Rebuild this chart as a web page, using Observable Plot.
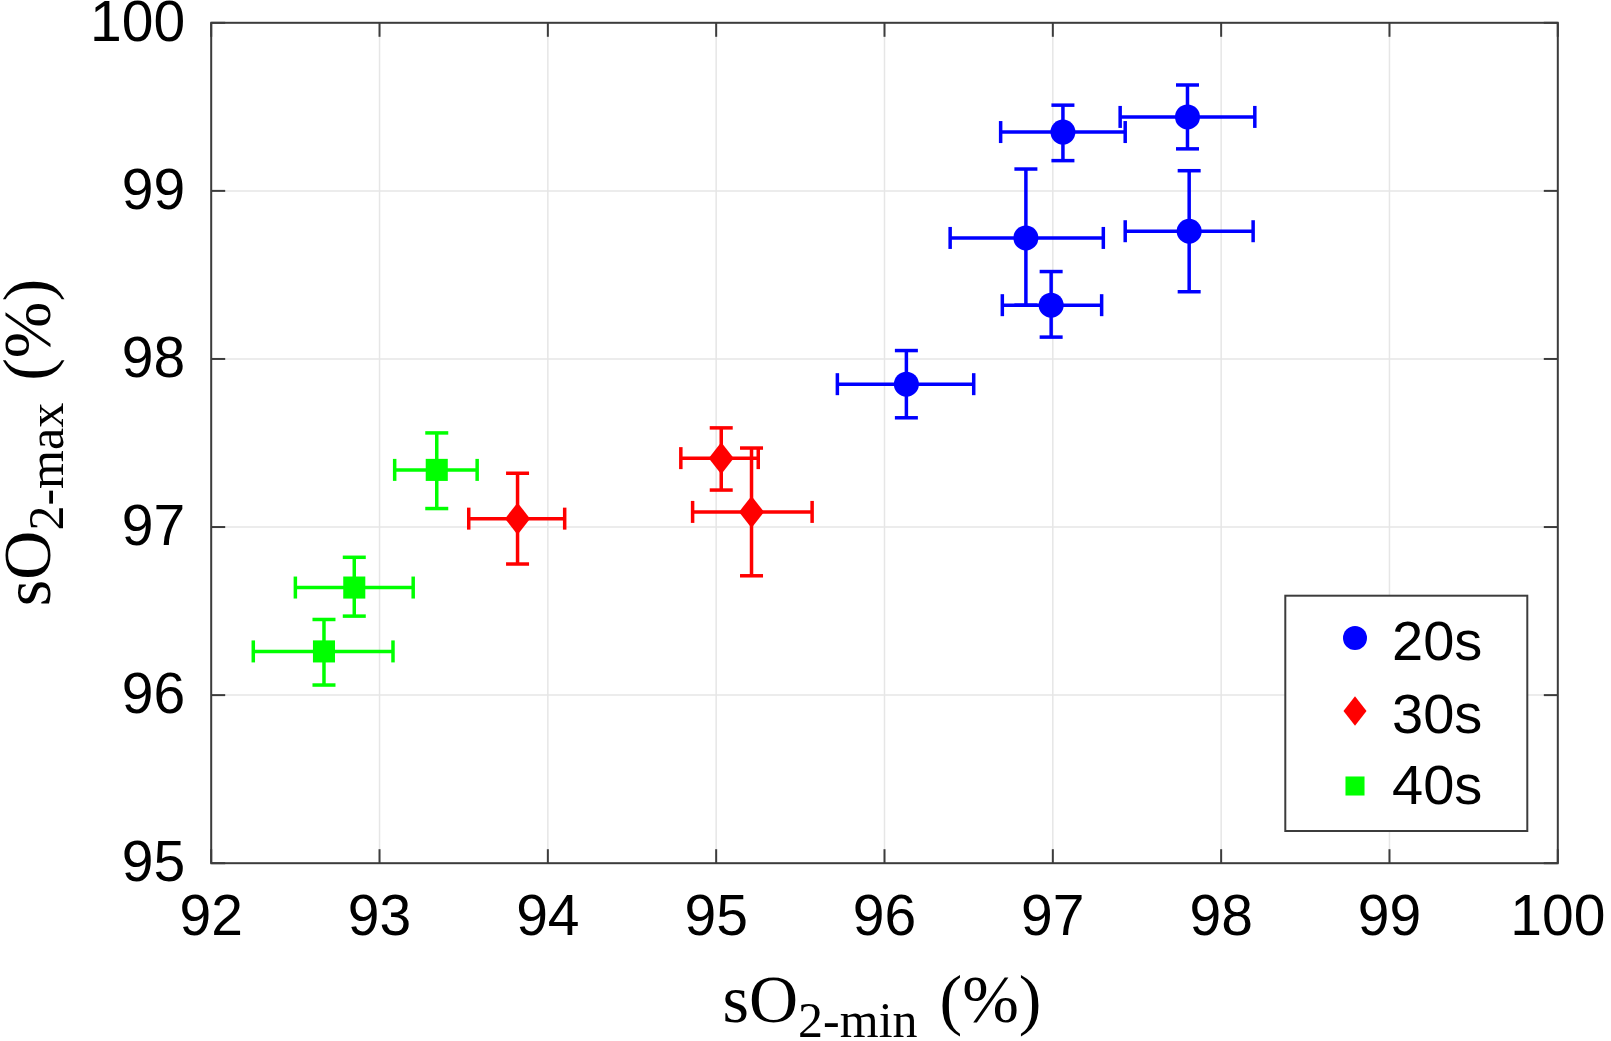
<!DOCTYPE html>
<html>
<head>
<meta charset="utf-8">
<script src="https://cdn.jsdelivr.net/npm/d3@7"></script>
<script src="https://cdn.jsdelivr.net/npm/@observablehq/plot@0.6"></script>
<style>
  html, body { margin: 0; padding: 0; background: #fff; }
  #chart { width: 1611px; height: 1041px; }
</style>
</head>
<body>
<div id="chart"></div>
<script>
// ---- data ----
const groups = ["20s", "30s", "40s"];
const colors = ["#0000ff", "#ff0000", "#00ff00"];

const x20   = [97.06, 97.80, 96.84, 96.99, 97.81, 96.13];
const y20   = [99.35, 99.44, 98.72, 98.32, 98.76, 97.85];
const x20lo = [96.69, 97.40, 96.39, 96.70, 97.43, 95.72];
const x20hi = [97.43, 98.20, 97.30, 97.29, 98.19, 96.53];
const y20lo = [99.18, 99.25, 98.32, 98.13, 98.40, 97.65];
const y20hi = [99.51, 99.63, 99.13, 98.52, 99.12, 98.05];

const x30   = [95.03, 95.21, 93.82];
const y30   = [97.41, 97.09, 97.05];
const x30lo = [94.79, 94.86, 93.53];
const x30hi = [95.25, 95.57, 94.10];
const y30lo = [97.22, 96.71, 96.78];
const y30hi = [97.59, 97.47, 97.32];

const x40   = [93.34, 92.85, 92.67];
const y40   = [97.34, 96.64, 96.26];
const x40lo = [93.09, 92.50, 92.25];
const x40hi = [93.58, 93.20, 93.08];
const y40lo = [97.11, 96.47, 96.06];
const y40hi = [97.56, 96.82, 96.45];

const xTicks = [92, 93, 94, 95, 96, 97, 98, 99, 100];
const yTicks = [95, 96, 97, 98, 99, 100];
const xLabel = { main: "sO", sub: "2-min", unit: "(%)" };
const yLabel = { main: "sO", sub: "2-max", unit: "(%)" };

// ---- build table ----
function rows(g, xs, ys, xlo, xhi, ylo, yhi) {
  return xs.map((x, i) => ({ group: g, x, y: ys[i], xlo: xlo[i], xhi: xhi[i], ylo: ylo[i], yhi: yhi[i] }));
}
const data = [
  ...rows("20s", x20, y20, x20lo, x20hi, y20lo, y20hi),
  ...rows("30s", x30, y30, x30lo, x30hi, y30lo, y30hi),
  ...rows("40s", x40, y40, x40lo, x40hi, y40lo, y40hi)
];

// ---- custom symbols ----
const diamondSym = { draw(ctx, size) { const r = Math.sqrt(size / Math.PI); const hw = r, hh = r * 1.28;
  ctx.moveTo(0, -hh); ctx.lineTo(hw, 0); ctx.lineTo(0, hh); ctx.lineTo(-hw, 0); ctx.closePath(); } };
const squareSym = { draw(ctx, size) { const r = Math.sqrt(size / Math.PI); const h = r * 0.89;
  ctx.rect(-h, -h, 2 * h, 2 * h); } };
const vCap = { draw(ctx) { ctx.moveTo(0, -11); ctx.lineTo(0, 11); } };
const hCap = { draw(ctx) { ctx.moveTo(-11.5, 0); ctx.lineTo(11.5, 0); } };
const tickUp = { draw(ctx) { ctx.moveTo(0, 0); ctx.lineTo(0, -14); } };
const tickDown = { draw(ctx) { ctx.moveTo(0, 0); ctx.lineTo(0, 14); } };
const tickRight = { draw(ctx) { ctx.moveTo(0, 0); ctx.lineTo(14, 0); } };
const tickLeft = { draw(ctx) { ctx.moveTo(0, 0); ctx.lineTo(-14, 0); } };

const symbolOf = { "20s": "circle", "30s": diamondSym, "40s": squareSym };
const rOf = { "20s": 12.5, "30s": 12.5, "40s": 12.4 };

const W = 1611, H = 1041;
const mL = 210.7, mT = 22.3, mR = W - 1557.3, mB = H - 862.7;
const frameColor = "#3c3c3c";
const gridColor = "#e6e6e6";
const sans = "Liberation Sans, Arial, sans-serif";
const fmt = d3.format("d");

const marks = [
  Plot.gridX(xTicks, { stroke: gridColor, strokeOpacity: 1, strokeWidth: 1.5 }),
  Plot.gridY(yTicks, { stroke: gridColor, strokeOpacity: 1, strokeWidth: 1.5 }),
  Plot.axisX(xTicks, { tickSize: 0, tickPadding: 31, tickFormat: fmt, fontSize: 57, fontFamily: sans, fill: "#000", label: null }),
  Plot.axisY(yTicks, { tickSize: 0, tickPadding: 26, tickFormat: fmt, fontSize: 57, fontFamily: sans, fill: "#000", label: null }),
  // inward ticks on all four sides
  Plot.dot(xTicks, { x: d => d, y: 95, symbol: tickUp, stroke: frameColor, strokeWidth: 2 }),
  Plot.dot(xTicks, { x: d => d, y: 100, symbol: tickDown, stroke: frameColor, strokeWidth: 2 }),
  Plot.dot(yTicks, { y: d => d, x: 92, symbol: tickRight, stroke: frameColor, strokeWidth: 2 }),
  Plot.dot(yTicks, { y: d => d, x: 100, symbol: tickLeft, stroke: frameColor, strokeWidth: 2 }),
  Plot.frame({ stroke: frameColor, strokeWidth: 2 })
];

groups.forEach((g, gi) => {
  const d = data.filter(r => r.group === g);
  const c = colors[gi];
  marks.push(
    Plot.ruleY(d, { y: "y", x1: "xlo", x2: "xhi", stroke: c, strokeWidth: 3.5 }),
    Plot.ruleX(d, { x: "x", y1: "ylo", y2: "yhi", stroke: c, strokeWidth: 3.5 }),
    Plot.dot(d, { x: "xlo", y: "y", symbol: vCap, stroke: c, strokeWidth: 3.5 }),
    Plot.dot(d, { x: "xhi", y: "y", symbol: vCap, stroke: c, strokeWidth: 3.5 }),
    Plot.dot(d, { x: "x", y: "ylo", symbol: hCap, stroke: c, strokeWidth: 3.5 }),
    Plot.dot(d, { x: "x", y: "yhi", symbol: hCap, stroke: c, strokeWidth: 3.5 }),
    Plot.dot(d, { x: "x", y: "y", symbol: symbolOf[g], r: rOf[g], fill: c, stroke: "none" })
  );
});

const chart = Plot.plot({
  width: W, height: H,
  marginLeft: mL, marginTop: mT, marginRight: mR, marginBottom: mB,
  x: { domain: [92, 100] },
  y: { domain: [95, 100] },
  style: { background: "#fff", color: "#000", fontFamily: sans },
  marks
});
document.getElementById("chart").appendChild(chart);

// ---- axis labels with subscripts ----
const svg = d3.select(chart);
const serif = "Liberation Serif, Times New Roman, serif";
function addLabel(sel, lab, subShift) {
  sel.attr("font-family", serif).attr("fill", "#000").attr("text-anchor", "middle");
  sel.append("tspan").attr("font-size", 68).text(lab.main);
  sel.append("tspan").attr("font-size", 50).attr("dy", subShift).text(lab.sub);
  sel.append("tspan").attr("font-size", 68).attr("dy", -subShift).attr("dx", 22).text(lab.unit);
}
addLabel(svg.append("text").attr("x", 882).attr("y", 1021.5), xLabel, 15);
addLabel(svg.append("text").attr("transform", "translate(50,442.5) rotate(-90)"), yLabel, 13);

// ---- legend ----
const lg = svg.append("g");
lg.append("rect").attr("x", 1285.3).attr("y", 595.7).attr("width", 242).attr("height", 235.3)
  .attr("fill", "#fff").attr("stroke", frameColor).attr("stroke-width", 2);
const legY = [638, 711, 786];
const legBase = [660, 733, 804];
const legSym = [d3.symbol(d3.symbolCircle, Math.PI * 12 * 12), d3.symbol(diamondSym, Math.PI * 11.5 * 11.5), d3.symbol(squareSym, Math.PI * 10.7 * 10.7)];
groups.forEach((g, i) => {
  lg.append("path").attr("d", legSym[i]()).attr("transform", `translate(1355,${legY[i]})`).attr("fill", colors[i]);
  lg.append("text").attr("x", 1392).attr("y", legBase[i]).attr("font-size", 56).attr("text-anchor", "start")
    .attr("font-family", sans).attr("fill", "#000").text(g);
});
</script>
</body>
</html>
